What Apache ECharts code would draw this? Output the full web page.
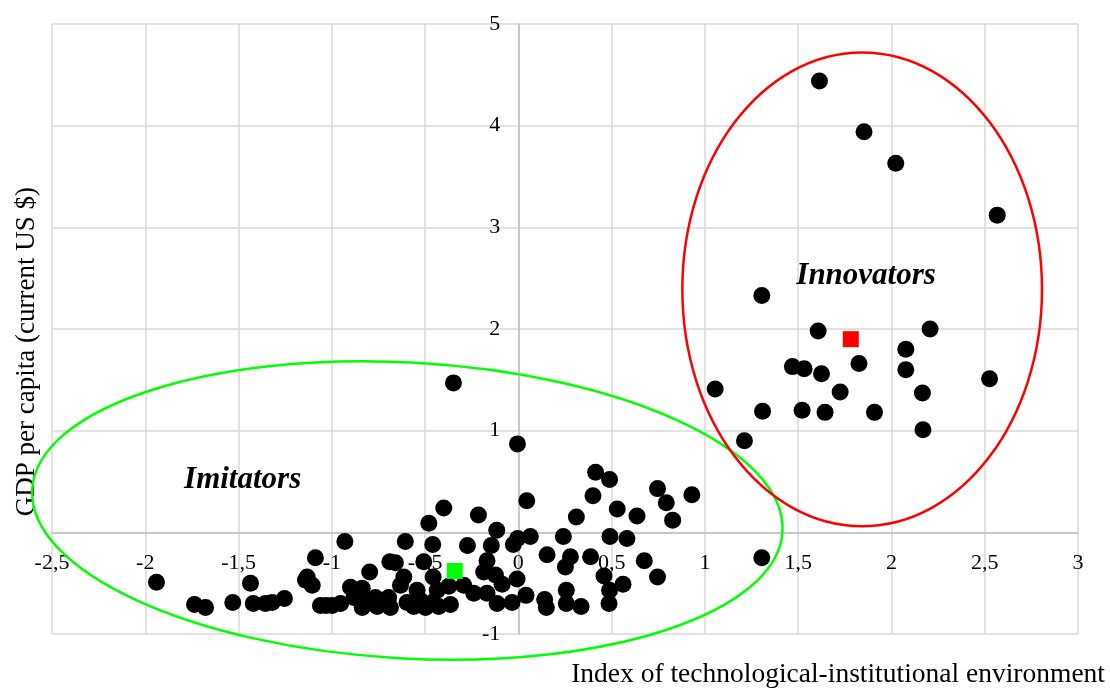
<!DOCTYPE html>
<html>
<head>
<meta charset="utf-8">
<script src="https://cdn.jsdelivr.net/npm/echarts@6/dist/echarts.min.js"></script>
<style>
html,body{margin:0;padding:0;background:#fff;}
#chart{width:1110px;height:689px;}
</style>
</head>
<body>
<div id="chart"></div>
<script>
// ---- Data ----
const xTicks = [-2.5,-2,-1.5,-1,-0.5,0,0.5,1,1.5,2,2.5,3];
const yTicks = [-1,1,2,3,4,5];

const innovatorCountries = [
  [1.614,4.44],[1.853,3.94],[2.023,3.63],[2.567,3.12],[1.305,2.33],[1.607,1.98],
  [2.207,2.00],[2.077,1.80],[2.077,1.60],[1.826,1.66],[1.469,1.63],[1.532,1.61],
  [1.625,1.56],[1.725,1.38],[2.526,1.51],[2.166,1.37],[1.055,1.41],[1.309,1.19],
  [1.521,1.20],[1.644,1.18],[1.909,1.18],[2.169,1.01],[1.212,0.90],[1.305,-0.25]
];
const centralCountries = [
  [-0.005,0.87],[-0.348,1.47],
  [0.414,0.59],[0.489,0.52],[0.746,0.43],[0.400,0.36],[0.793,0.29],[0.930,0.37],
  [0.045,0.31],[0.530,0.23],[0.311,0.15],[0.636,0.16],[0.827,0.12],[-0.40,0.24],
  [-0.214,0.17],[-0.116,0.02],[-0.48,0.09],
  [0.064,-0.04],[-0.004,-0.06],[-0.027,-0.12],[0.241,-0.04],[0.491,-0.04],[0.582,-0.06],
  [-0.273,-0.13],[-0.145,-0.13],[0.154,-0.22],[0.279,-0.24],[0.387,-0.24],[0.252,-0.34],
  [0.675,-0.28],[-0.168,-0.28],[0.459,-0.43],[0.746,-0.44],[-0.186,-0.39],[-0.123,-0.42],
  [-0.007,-0.46],[-0.293,-0.52],[-0.087,-0.51],[0.561,-0.51],[0.489,-0.57],[-0.239,-0.60],
  [-0.168,-0.60],[0.041,-0.62],[0.257,-0.57],[0.141,-0.66],[0.15,-0.74],[-0.114,-0.70],
  [-0.034,-0.69],[-0.364,-0.71],[0.257,-0.70],[0.336,-0.73],[0.486,-0.70]
];
const imitatorCountries = [
  [-0.930,-0.09],[-0.606,-0.09],[-0.459,-0.12],[-1.088,-0.25],[-0.689,-0.29],[-0.659,-0.30],
  [-0.507,-0.29],[-0.797,-0.39],[-1.132,-0.44],[-1.105,-0.52],[-0.614,-0.44],[-0.457,-0.44],
  [-0.900,-0.54],[-0.837,-0.55],[-0.632,-0.52],[-0.373,-0.53],[-0.543,-0.57],[-0.435,-0.57],
  [-1.061,-0.72],[-0.998,-0.72],[-0.953,-0.70],[-0.882,-0.64],[-0.82,-0.67],[-0.766,-0.64],
  [-0.695,-0.64],[-0.597,-0.69],[-0.525,-0.67],[-0.462,-0.69],[-0.837,-0.74],[-0.757,-0.73],
  [-0.686,-0.74],[-0.561,-0.73],[-0.498,-0.74],[-0.427,-0.73],
  [-1.940,-0.49],[-1.736,-0.71],[-1.677,-0.74],[-1.531,-0.69],[-1.436,-0.50],[-1.421,-0.70],
  [-1.356,-0.70],[-1.32,-0.69],[-1.254,-0.65],[-1.141,-0.47],[-1.03,-0.72]
];
const imitatorCentroid = [[-0.341,-0.38]];
const innovatorCentroid = [[1.782,1.90]];
// cluster ellipses: centerX, centerY, radiusX, radiusY, rotation(deg)
const imitatorEllipse = [[-0.595,0.215,2.014,1.455,-3.2]];
const innovatorEllipse = [[1.843,2.39,0.964,2.33,0]];
const groupLabels = [[1.864,2.52,'Innovators'],[-1.478,0.51,'Imitators']];

const xTitle = 'Index of technological-institutional environment';
const yTitle = 'GDP per capita (current US $)';

// ---- Chart ----
const FONT = '"Liberation Serif", "Times New Roman", serif';
const chart = echarts.init(document.getElementById('chart'), null, {renderer:'canvas'});
const fmt = v => String(v).replace('.', ',');

function ellipseSeries(data, color){
  return {
    type:'custom', data:data, clip:false, silent:true, z:5,
    renderItem:function(params, api){
      const c = api.coord([api.value(0), api.value(1)]);
      const s = api.size([api.value(2), api.value(3)]);
      return {
        type:'ellipse', x:c[0], y:c[1], rotation: api.value(4)*Math.PI/180,
        shape:{cx:0, cy:0, rx:s[0], ry:s[1]},
        style:{fill:'none', stroke:color, lineWidth:2.5}
      };
    }
  };
}
function dots(data, color, symbol, size, z){
  return {type:'scatter', data:data, symbol:symbol, symbolSize:size,
    itemStyle:{color:color, opacity:1}, emphasis:{disabled:true}, z:z};
}

const option = {
  animation:false,
  backgroundColor:'#ffffff',
  grid:{left:52, right:32, top:24, bottom:55, containLabel:false},
  xAxis:{
    type:'value', min:-2.5, max:3, interval:0.5,
    axisLine:{show:true, onZero:true, lineStyle:{color:'#bfbfbf', width:1.5}},
    axisTick:{show:false},
    splitLine:{show:true, lineStyle:{color:'#d9d9d9', width:1.5}},
    axisLabel:{show:false}
  },
  yAxis:{
    type:'value', min:-1, max:5, interval:1,
    axisLine:{show:true, onZero:true, lineStyle:{color:'#bfbfbf', width:1.5}},
    axisTick:{show:false},
    splitLine:{show:true, lineStyle:{color:'#d9d9d9', width:1.5}},
    axisLabel:{show:false}
  },
  graphic:[
    {type:'text', right:5, top:661, silent:true,
      style:{text:xTitle, font:'27.5px ' + FONT, fill:'#000'}},
    {type:'text', left:13, top:187, silent:true, rotation:Math.PI/2,
      style:{text:yTitle, font:'27px ' + FONT, fill:'#000'}}
  ],
  series:[
    // tick labels sitting on the zero lines
    {type:'scatter', data:xTicks.map(v => [v, 0]), symbolSize:0, silent:true, clip:false, z:2,
      itemStyle:{opacity:1},
      label:{show:true, position:'bottom', distance:20, color:'#000', fontFamily:FONT, fontSize:22,
        formatter:p => fmt(p.value[0])}},
    {type:'scatter', data:yTicks.map(v => [0, v]), symbolSize:0, silent:true, clip:false, z:2,
      itemStyle:{opacity:1},
      label:{show:true, position:'left', distance:18, color:'#000', fontFamily:FONT, fontSize:22,
        formatter:p => fmt(p.value[1])}},
    dots(innovatorCountries, '#000', 'circle', 17, 3),
    dots(centralCountries, '#000', 'circle', 17, 3),
    dots(imitatorCountries, '#000', 'circle', 17, 3),
    dots(imitatorCentroid, '#00ff00', 'rect', 16, 4),
    dots(innovatorCentroid, '#ff0000', 'rect', 16, 4),
    ellipseSeries(imitatorEllipse, '#00ff00'),
    ellipseSeries(innovatorEllipse, '#ff0000'),
    {type:'scatter', data:groupLabels.map(d => ({value:[d[0], d[1]], name:d[2]})),
      symbolSize:0, silent:true, z:6, itemStyle:{opacity:1},
      label:{show:true, position:'inside', formatter:'{b}', color:'#000',
        fontFamily:FONT, fontSize:31, fontWeight:'bold', fontStyle:'italic'}}
  ]
};
chart.setOption(option);
</script>
</body>
</html>
